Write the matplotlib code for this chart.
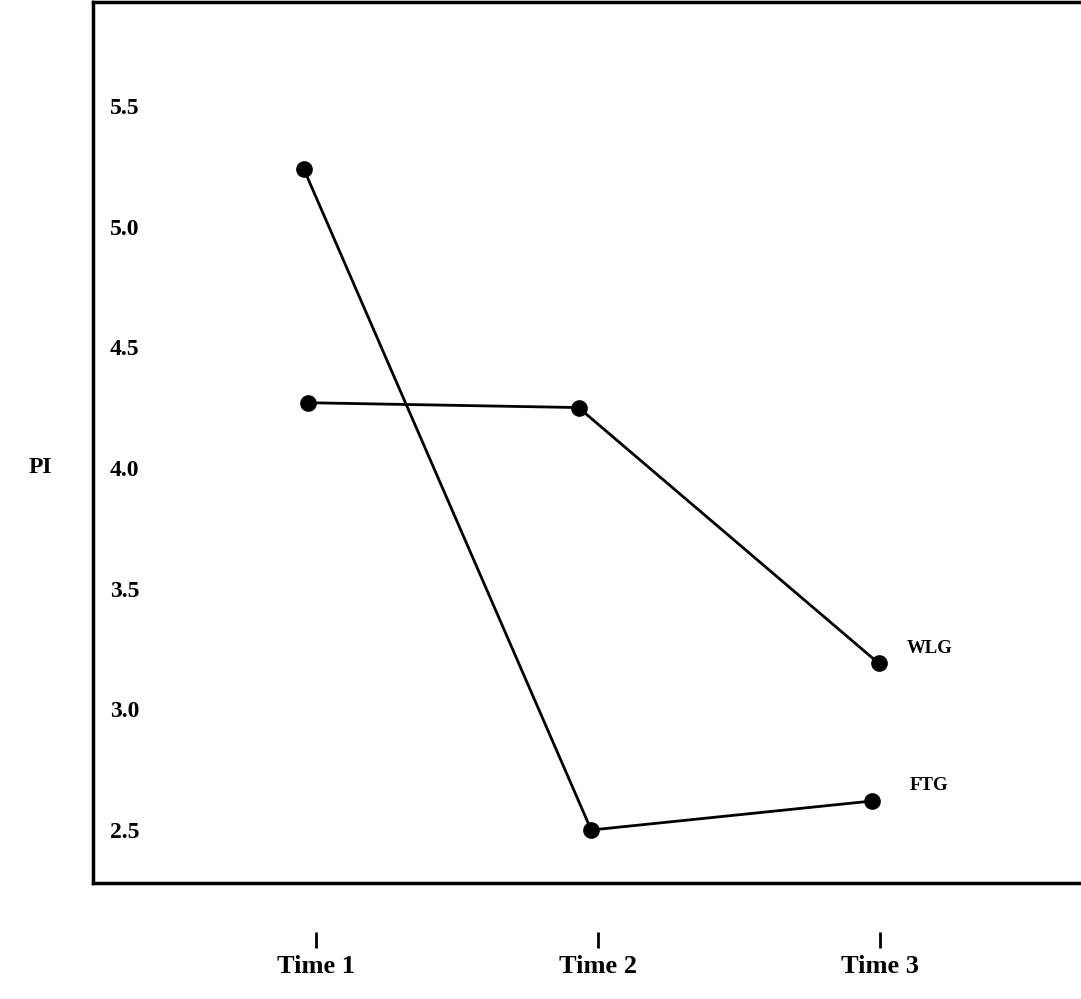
import matplotlib
matplotlib.use("Agg")
import matplotlib.pyplot as plt

# values
time_labels = ["Time 1", "Time 2", "Time 3"]
time_ticks = [1, 2, 3]

ftg_x = [0.955, 1.975, 2.97]
ftg_pi = [5.24, 2.50, 2.62]

wlg_x = [0.97, 1.93, 2.995]
wlg_pi = [4.27, 4.25, 3.19]

y_ticks = [2.5, 3.0, 3.5, 4.0, 4.5, 5.0, 5.5]

plt.rcParams['font.family'] = ['Liberation Serif', 'DejaVu Serif']

fig = plt.figure(figsize=(10.81, 9.99), dpi=100)
ax = fig.add_axes([0.086, 0.116, 0.92, 0.882])

line_kw = dict(color='black', linewidth=2.0, marker='o', markersize=11)
ax.plot(ftg_x, ftg_pi, **line_kw)
ax.plot(wlg_x, wlg_pi, **line_kw)

ax.annotate('WLG', (wlg_x[-1], wlg_pi[-1]), xytext=(20, 11), textcoords='offset points',
            fontsize=13.5, fontweight='bold', va='center', ha='left')
ax.annotate('FTG', (ftg_x[-1], ftg_pi[-1]), xytext=(27, 11), textcoords='offset points',
            fontsize=13.5, fontweight='bold', va='center', ha='left')

ax.set_xlim(0.208, 3.735)
ax.set_ylim(2.28, 5.93)

for s in ax.spines.values():
    s.set_linewidth(2.5)

# y labels sit inside the box, no tick marks
ax.set_yticks(y_ticks)
ax.set_yticklabels([f"{v:.1f}" for v in y_ticks])
ax.tick_params(axis='y', length=0, pad=-12, labelsize=17)
for lab in ax.get_yticklabels():
    lab.set_horizontalalignment('left')
    lab.set_fontweight('bold')

ax.set_ylabel('PI', rotation=0, fontsize=17, fontweight='bold', va='center', ha='center')
ax.yaxis.set_label_coords(-0.053, 0.472)

# x ticks drawn detached below the box
ax.set_xticks([])
sec = ax.secondary_xaxis('bottom')
sec.set_xticks(time_ticks)
sec.set_xticklabels(time_labels)
sec.spines['bottom'].set_position(('outward', 35))
sec.spines['bottom'].set_visible(False)
sec.tick_params(axis='x', direction='out', length=11.5, width=2, pad=5, labelsize=19)
for lab in sec.get_xticklabels():
    lab.set_fontweight('bold')

fig.savefig('out.png', dpi=100)
